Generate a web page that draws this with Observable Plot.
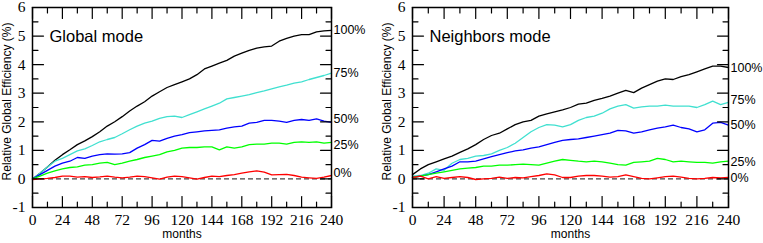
<!DOCTYPE html>
<html><head><meta charset="utf-8">
<script src="https://cdn.jsdelivr.net/npm/d3@7"></script>
<script src="https://cdn.jsdelivr.net/npm/@observablehq/plot@0.6"></script>
<style>
body{margin:0;background:#fff;}
#wrap{position:relative;width:763px;height:243px;overflow:hidden;}
#wrap svg{position:absolute;top:0;}
#wrap svg g[aria-label$="tick label"] text{font-family:"Liberation Serif","DejaVu Serif",serif;font-size:15.5px;}
</style></head><body><div id="wrap"></div>
<script>
const months = [0,6,12,18,24,30,36,42,48,54,60,66,72,78,84,90,96,102,108,114,120,126,132,138,144,150,156,162,168,174,180,186,192,198,204,210,216,222,228,234,240];
const seriesNames = ["100%","75%","50%","25%","0%"];
const seriesColors = ["#000000","#40e0d0","#0000ff","#00ff00","#ff0000"];
const xMajorTicks = [0,24,48,72,96,120,144,168,192,216,240];
const xMinorTicks = [12,36,60,84,108,132,156,180,204,228];
const yMajorTicks = [-1,0,1,2,3,4,5,6];
const yMinorTicks = [-0.5,0.5,1.5,2.5,3.5,4.5,5.5];

// Global mode
const global100 = [0,0.2,0.42,0.65,0.85,1.02,1.2,1.33,1.48,1.65,1.85,2.0,2.18,2.38,2.55,2.7,2.9,3.05,3.2,3.3,3.4,3.5,3.65,3.85,3.95,4.05,4.15,4.3,4.4,4.5,4.58,4.62,4.65,4.82,4.92,5.0,5.05,5.05,5.15,5.18,5.2];
const global75 = [0,0.2,0.42,0.62,0.72,0.85,0.98,1.05,1.17,1.3,1.38,1.45,1.58,1.72,1.85,1.95,2.02,2.12,2.18,2.2,2.15,2.25,2.35,2.45,2.55,2.65,2.8,2.85,2.9,2.95,3.02,3.08,3.15,3.22,3.28,3.35,3.4,3.48,3.55,3.62,3.7];
const global50 = [0,0.15,0.3,0.45,0.55,0.62,0.75,0.72,0.8,0.85,0.88,0.87,0.88,0.92,1.08,1.2,1.35,1.32,1.42,1.5,1.55,1.62,1.65,1.68,1.7,1.72,1.78,1.82,1.85,1.95,1.98,2.05,2.05,2.02,1.98,2.05,2.08,2.05,2.1,2.02,1.98];
const global25 = [0,0.1,0.2,0.28,0.35,0.4,0.42,0.48,0.5,0.55,0.58,0.5,0.55,0.62,0.68,0.75,0.8,0.85,0.95,1.0,1.08,1.1,1.1,1.12,1.12,1.02,1.12,1.08,1.12,1.2,1.22,1.22,1.25,1.25,1.22,1.28,1.3,1.28,1.3,1.25,1.28];
const global0 = [-0.02,0,0.02,0.05,0.1,0.1,0.06,0.08,0.05,0.07,0.1,0.06,0.04,0.06,0.1,0.08,0.04,-0.01,0.06,0.1,0.08,0.04,-0.01,0.05,0.1,0.08,0.12,0.15,0.2,0.25,0.28,0.24,0.14,0.15,0.16,0.12,0.06,0.04,0.02,0.06,0.12];
const globalLabelY = [5.2,3.72,2.1,1.18,0.2];

// Neighbors mode
const neighbors100 = [0.15,0.35,0.5,0.6,0.7,0.8,0.93,1.05,1.2,1.38,1.52,1.6,1.75,1.9,2.0,2.05,2.2,2.28,2.35,2.42,2.5,2.62,2.65,2.75,2.82,2.9,3.0,3.1,3.02,3.18,3.3,3.42,3.5,3.48,3.58,3.65,3.75,3.85,3.95,3.95,3.9];
const neighbors75 = [0.1,0.12,0.2,0.35,0.3,0.55,0.68,0.72,0.8,0.82,0.88,1.0,1.1,1.25,1.45,1.65,1.8,1.9,1.88,1.82,1.9,2.05,2.15,2.2,2.3,2.45,2.55,2.6,2.48,2.52,2.55,2.55,2.58,2.55,2.55,2.55,2.5,2.6,2.72,2.6,2.68];
const neighbors50 = [0.05,0.1,0.15,0.25,0.35,0.45,0.6,0.6,0.62,0.7,0.78,0.85,0.92,0.98,1.02,1.08,1.12,1.2,1.28,1.35,1.38,1.4,1.45,1.5,1.55,1.6,1.7,1.68,1.6,1.65,1.72,1.78,1.82,1.88,1.8,1.75,1.65,1.72,1.95,1.98,1.88];
const neighbors25 = [0.05,0.1,0.15,0.2,0.25,0.3,0.35,0.38,0.4,0.45,0.45,0.48,0.48,0.5,0.52,0.5,0.48,0.55,0.62,0.68,0.65,0.62,0.6,0.62,0.6,0.55,0.5,0.48,0.58,0.6,0.62,0.72,0.68,0.6,0.62,0.6,0.58,0.58,0.55,0.6,0.62];
const neighbors0 = [0.05,0.1,0,0.08,0.02,0.05,0.08,0.05,-0.02,0,0.02,0.06,0.02,0.05,0.04,0.08,0.12,0.18,0.14,0.05,0.05,0.1,0.12,0.12,0.1,0.06,0.08,0.14,0.08,0.02,0,0.04,0.08,0.1,0.06,0.02,0,0.02,0.05,0.04,0.05];
const neighborsLabelY = [3.9,2.77,1.9,0.6,0.02];

const tickShape = {draw(ctx, l) { ctx.moveTo(0, 0); ctx.lineTo(0, -l); }};
const serif = "'Liberation Serif', 'DejaVu Serif', serif";
const sans = "'Liberation Sans', Arial, sans-serif";

function panel({title, seriesValues, labelY, width, marginLeft, marginRight, left}) {
  const rows = [];
  seriesValues.forEach((vals, s) => vals.forEach((v, i) => rows.push({month: months[i], value: v, series: seriesNames[s]})));
  const labels = seriesNames.map((n, i) => ({name: n, y: labelY[i]}));
  const tk = (data, ch, anchor, rot, len) => (ch === "x" ? Plot.vectorX : Plot.vectorY)(data, {
    [ch]: d => d, frameAnchor: anchor, rotate: rot, length: len, anchor: "start",
    shape: tickShape, stroke: "black", strokeWidth: 1.2
  });
  const svg = Plot.plot({
    width, height: 243,
    marginLeft, marginRight, marginTop: 7, marginBottom: 36,
    style: {fontFamily: serif, fontSize: "15.5px", color: "black", background: "white", overflow: "visible"},
    x: {domain: [0, 240], axis: null},
    y: {domain: [-1, 6], axis: null},
    color: {domain: seriesNames, range: seriesColors},
    marks: [
      Plot.ruleY([0], {stroke: "#444", strokeDasharray: "5,3", strokeWidth: 1.3}),
      Plot.line(rows, {x: "month", y: "value", z: "series", stroke: "series", strokeWidth: 1.3, curve: "linear"}),
      Plot.frame({stroke: "black", strokeWidth: 1.5}),
      tk(xMajorTicks, "x", "bottom", 0, 11), tk(xMinorTicks, "x", "bottom", 0, 5.5),
      tk(xMajorTicks, "x", "top", 180, 11), tk(xMinorTicks, "x", "top", 180, 5.5),
      tk(yMajorTicks, "y", "left", 90, 11), tk(yMinorTicks, "y", "left", 90, 5.5),
      tk(yMajorTicks, "y", "right", -90, 11), tk(yMinorTicks, "y", "right", -90, 5.5),
      Plot.axisX(xMajorTicks, {anchor: "bottom", tickSize: 0, tickPadding: 6, label: null, tickFormat: d => String(d), fontSize: 15.5, fontFamily: serif}),
      Plot.axisY(yMajorTicks, {anchor: "left", tickSize: 0, tickPadding: 7, label: null, tickFormat: d => String(d), fontSize: 15.5, fontFamily: serif}),
      Plot.text(labels, {x: 240, y: "y", text: "name", textAnchor: "start", dx: 2, fontFamily: sans, fontSize: 12.5, fill: "black"}),
      Plot.text([title], {frameAnchor: "top-left", dx: 17, dy: 23, textAnchor: "start", fontFamily: sans, fontSize: 16.5, fill: "black"}),
      Plot.text(["months"], {frameAnchor: "bottom", textAnchor: "middle", dy: 30, fontFamily: sans, fontSize: 12, fill: "black"}),
      Plot.text(["Relative Global Efficiency (%)"], {frameAnchor: "left", textAnchor: "middle", rotate: -90, dx: -25, dy: -6, fontFamily: sans, fontSize: 12, fill: "black"})
    ]
  });
  svg.style.left = left + "px";
  return svg;
}

const wrap = document.getElementById("wrap");
wrap.appendChild(panel({title: "Global mode", seriesValues: [global100, global75, global50, global25, global0], labelY: globalLabelY, width: 380, marginLeft: 32, marginRight: 49, left: 0}));
wrap.appendChild(panel({title: "Neighbors mode", seriesValues: [neighbors100, neighbors75, neighbors50, neighbors25, neighbors0], labelY: neighborsLabelY, width: 383, marginLeft: 32, marginRight: 35, left: 380}));
</script></body></html>
